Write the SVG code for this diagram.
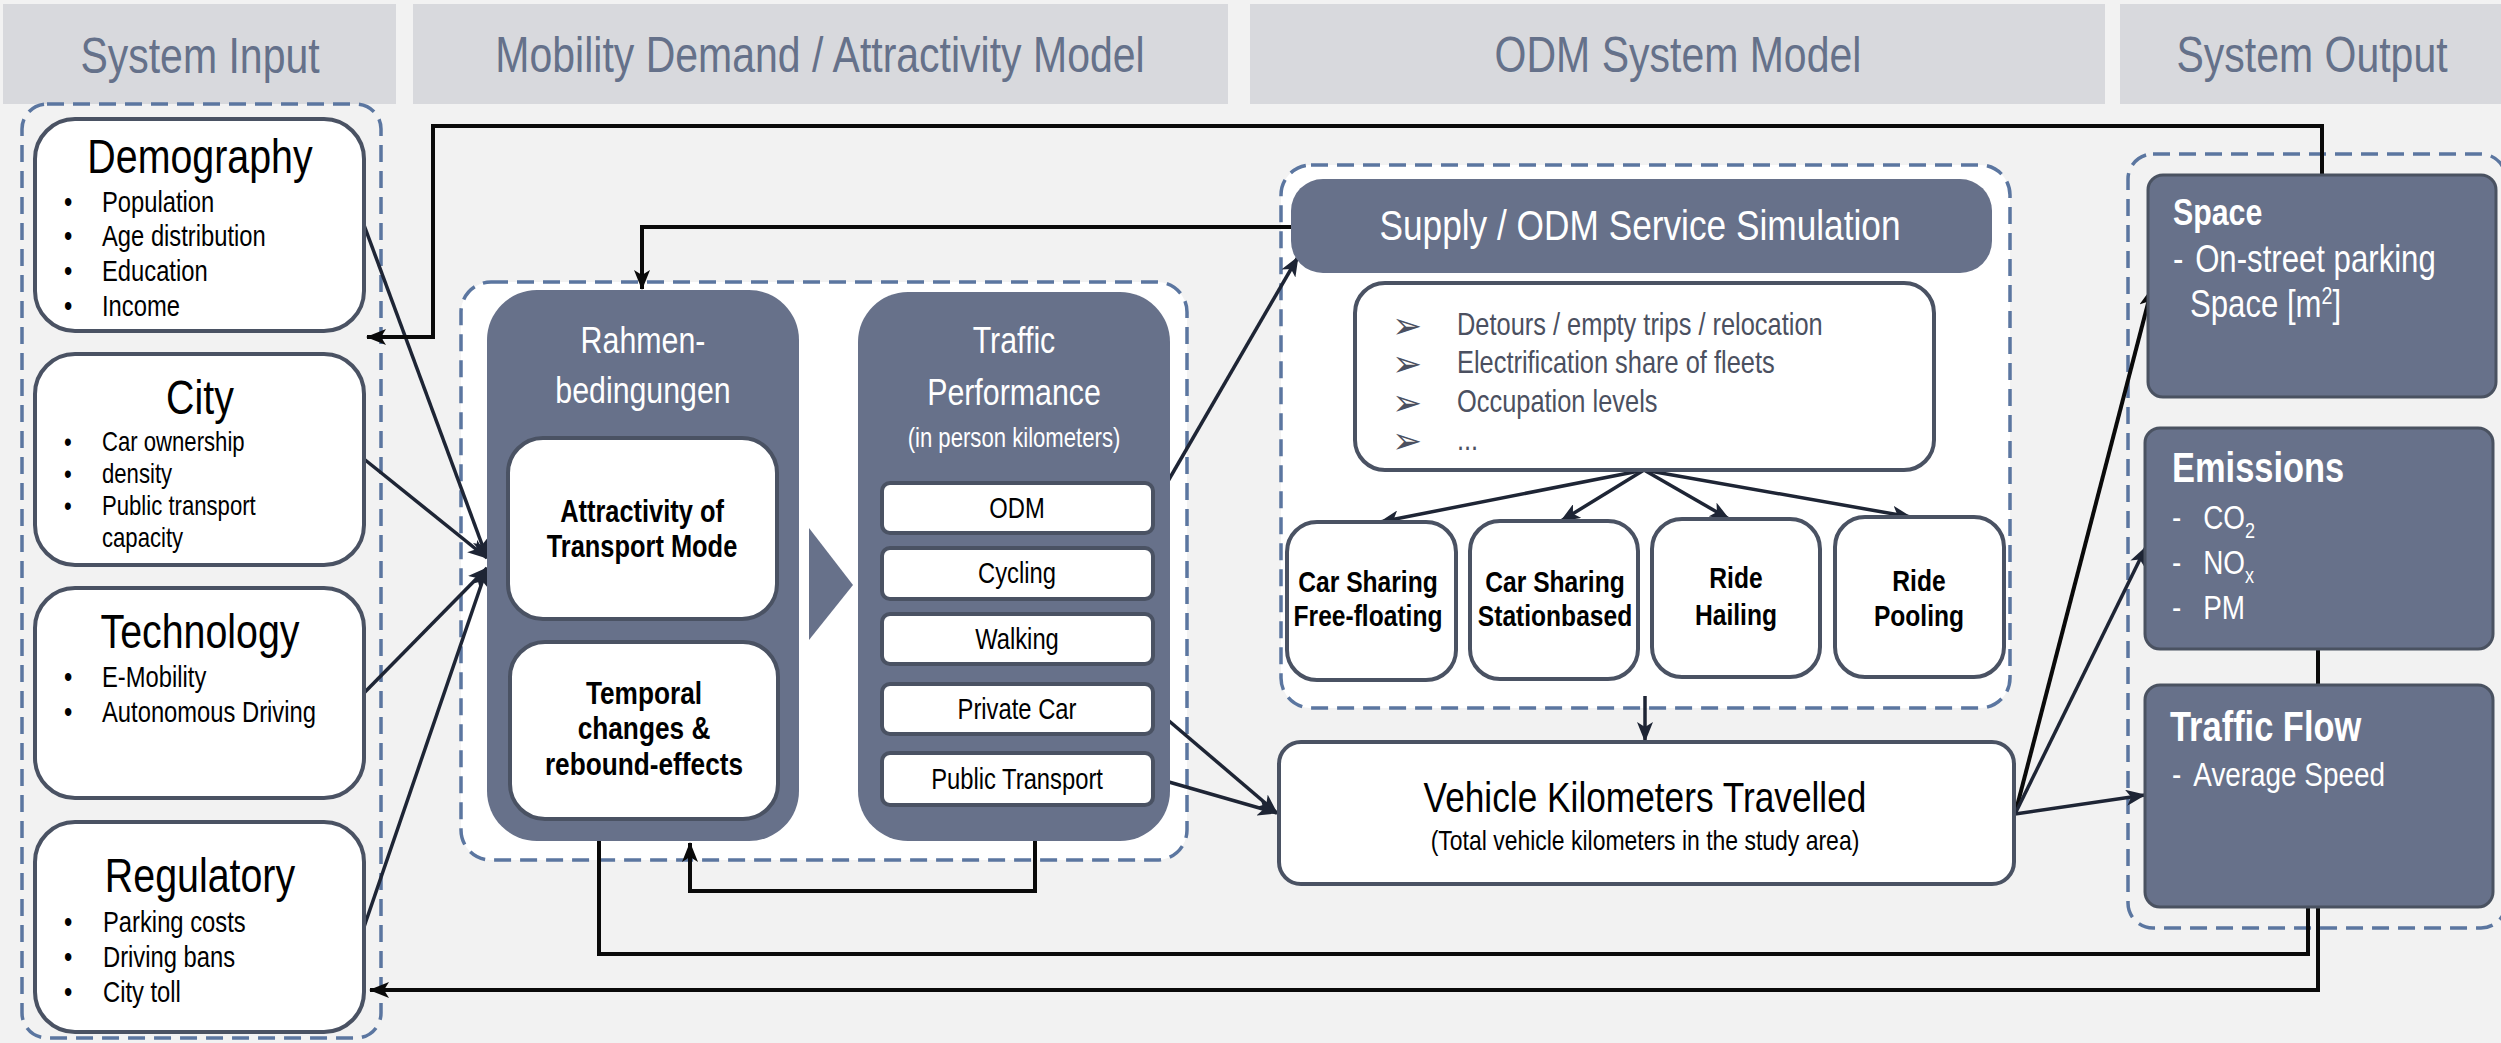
<svg xmlns="http://www.w3.org/2000/svg" width="2501" height="1043" viewBox="0 0 2501 1043">
<defs>
<style>
text{font-family:'Liberation Sans',Arial,sans-serif;transform-box:fill-box;transform:scaleX(0.82);}
.c{transform-origin:center;}
.l{transform-origin:left center;}
.hdr{fill:#d8d9dd;}
.htx{fill:#65718a;font-size:50px;text-anchor:middle;}
.cont{fill:none;stroke:#5b76a0;stroke-width:3.5;stroke-dasharray:17 9;}
.contw{fill:#ffffff;stroke:#5b76a0;stroke-width:3.5;stroke-dasharray:17 9;}
.wb{fill:#ffffff;stroke:#4a5263;stroke-width:4;}
.db{fill:#67718a;}
.ob{fill:#67718a;stroke:#4a5261;stroke-width:3;}
.ttl{font-size:48px;fill:#000;text-anchor:middle;}
.bul{font-size:29px;fill:#000;}
.bulc{font-size:27px;fill:#000;}
.wt{fill:#ffffff;text-anchor:middle;}
.bt{font-weight:bold;fill:#000;text-anchor:middle;}
.mode{font-size:29px;fill:#000;text-anchor:middle;}
.lst{font-size:31px;fill:#4b5060;}
.sym{font-family:'DejaVu Sans',sans-serif;font-size:36px;fill:#4b5060;transform:none;}
.arr{fill:none;stroke:#1e2535;stroke-width:3.5;}
.fb{fill:none;stroke:#0a0a0a;stroke-width:4;}
.ow{fill:#ffffff;}
</style>
<marker id="ah" viewBox="0 0 20 16" refX="19" refY="8" markerWidth="20" markerHeight="16" markerUnits="userSpaceOnUse" orient="auto">
<path d="M0,0 L20,8 L0,16 L5,8 z" fill="#1e2535"/>
</marker>
<marker id="ahk" viewBox="0 0 20 16" refX="19" refY="8" markerWidth="20" markerHeight="16" markerUnits="userSpaceOnUse" orient="auto">
<path d="M0,0 L20,8 L0,16 L5,8 z" fill="#0a0a0a"/>
</marker>
</defs>
<rect x="0" y="0" width="2501" height="1043" fill="#f2f2f2"/>

<g id="headers">
<rect class="hdr" x="3" y="4" width="393" height="100"/>
<text class="htx c" x="200" y="73">System Input</text>
<rect class="hdr" x="413" y="4" width="815" height="100"/>
<text class="htx c" x="820" y="72">Mobility Demand / Attractivity Model</text>
<rect class="hdr" x="1250" y="4" width="855" height="100"/>
<text class="htx c" x="1678" y="72">ODM System Model</text>
<rect class="hdr" x="2120" y="4" width="381" height="100"/>
<text class="htx c" x="2312" y="72">System Output</text>
</g>

<g id="containers">
<rect class="cont" x="22" y="104" width="359" height="934" rx="25"/>
<rect class="contw" x="461" y="282" width="726" height="578" rx="30"/>
<rect class="contw" x="1281" y="165" width="729" height="543" rx="30"/>
<rect class="cont" x="2128" y="154" width="378" height="774" rx="25"/>
</g>

<g id="connectors">
<line class="arr" x1="364" y1="225" x2="487" y2="558" marker-end="url(#ah)"/>
<line class="arr" x1="364" y1="459" x2="487" y2="558" marker-end="url(#ah)"/>
<line class="arr" x1="364" y1="693" x2="487" y2="568" marker-end="url(#ah)"/>
<line class="arr" x1="364" y1="927" x2="487" y2="568" marker-end="url(#ah)"/>
<line class="arr" x1="1153" y1="507" x2="1298" y2="257" marker-end="url(#ah)"/>
<line class="arr" x1="1155" y1="709" x2="1277" y2="813" marker-end="url(#ah)"/>
<line class="arr" x1="1155" y1="778" x2="1277" y2="813" marker-end="url(#ah)"/>
<line class="arr" x1="1644" y1="470" x2="1380" y2="522" marker-end="url(#ah)"/>
<line class="arr" x1="1644" y1="470" x2="1561" y2="521" marker-end="url(#ah)"/>
<line class="arr" x1="1644" y1="470" x2="1729" y2="519" marker-end="url(#ah)"/>
<line class="arr" x1="1644" y1="470" x2="1911" y2="517" marker-end="url(#ah)"/>
<line class="arr" x1="1645" y1="696" x2="1645" y2="741" marker-end="url(#ah)"/>
<line class="fb" x1="2015" y1="814" x2="2152" y2="288" marker-end="url(#ahk)"/>
<line class="arr" x1="2015" y1="814" x2="2146" y2="547" marker-end="url(#ah)"/>
<line class="arr" x1="2015" y1="814" x2="2145" y2="795" marker-end="url(#ah)"/>
<polyline class="fb" points="1291,227 642,227 642,289" marker-end="url(#ahk)"/>
<polyline class="fb" points="2322,175 2322,126 433,126 433,337 367,337" marker-end="url(#ahk)"/>
<polyline class="fb" points="1035,841 1035,891 690,891 690,843" marker-end="url(#ahk)"/>
<polyline class="fb" points="599,841 599,954 2308,954 2308,907"/>
<polyline class="fb" points="2318,649 2318,990 370,990" marker-end="url(#ahk)"/>
</g>

<g id="demography">
<rect class="wb" x="35" y="119" width="329" height="212" rx="40"/>
<text class="ttl c" x="200" y="173">Demography</text>
<text class="bul l" x="64" y="212">•</text><text class="bul l" x="102" y="212">Population</text>
<text class="bul l" x="64" y="246">•</text><text class="bul l" x="102" y="246">Age distribution</text>
<text class="bul l" x="64" y="281">•</text><text class="bul l" x="102" y="281">Education</text>
<text class="bul l" x="64" y="316">•</text><text class="bul l" x="102" y="316">Income</text>
</g>

<g id="city">
<rect class="wb" x="35" y="354" width="329" height="211" rx="40"/>
<text class="ttl c" x="200" y="414">City</text>
<text class="bulc l" x="64" y="451">•</text><text class="bulc l" x="102" y="451">Car ownership</text>
<text class="bulc l" x="64" y="483">•</text><text class="bulc l" x="102" y="483">density</text>
<text class="bulc l" x="64" y="515">•</text><text class="bulc l" x="102" y="515">Public transport</text>
<text class="bulc l" x="102" y="547">capacity</text>
</g>

<g id="technology">
<rect class="wb" x="35" y="588" width="329" height="210" rx="40"/>
<text class="ttl c" x="200" y="648">Technology</text>
<text class="bul l" x="64" y="687">•</text><text class="bul l" x="102" y="687">E-Mobility</text>
<text class="bul l" x="64" y="722">•</text><text class="bul l" x="102" y="722">Autonomous Driving</text>
</g>

<g id="regulatory">
<rect class="wb" x="35" y="822" width="329" height="210" rx="40"/>
<text class="ttl c" x="200" y="892">Regulatory</text>
<text class="bul l" x="64" y="932">•</text><text class="bul l" x="103" y="932">Parking costs</text>
<text class="bul l" x="64" y="967">•</text><text class="bul l" x="103" y="967">Driving bans</text>
<text class="bul l" x="64" y="1002">•</text><text class="bul l" x="103" y="1002">City toll</text>
</g>

<g id="rahmen">
<rect class="db" x="487" y="290" width="312" height="551" rx="50"/>
<text class="wt c" x="643" y="353" font-size="37">Rahmen-</text>
<text class="wt c" x="643" y="403" font-size="37">bedingungen</text>
</g>
<g id="attractivity">
<rect class="wb" x="508" y="438" width="269" height="181" rx="35"/>
<text class="bt c" x="642" y="522" font-size="31">Attractivity of</text>
<text class="bt c" x="642" y="557" font-size="31">Transport Mode</text>
</g>
<g id="temporal">
<rect class="wb" x="510" y="642" width="268" height="177" rx="35"/>
<text class="bt c" x="644" y="704" font-size="32">Temporal</text>
<text class="bt c" x="644" y="739" font-size="32">changes &amp;</text>
<text class="bt c" x="644" y="775" font-size="32">rebound-effects</text>
</g>

<g id="chevron">
<polygon points="809,528 853,585 809,640" fill="#67718a"/>
</g>

<g id="traffic-performance">
<rect class="db" x="858" y="292" width="312" height="549" rx="50"/>
<text class="wt c" x="1014" y="353" font-size="37">Traffic</text>
<text class="wt c" x="1014" y="405" font-size="37">Performance</text>
<text class="wt c" x="1014" y="447" font-size="27">(in person kilometers)</text>
</g>
<g id="mode-odm"><rect class="wb" x="882" y="483" width="271" height="50" rx="8"/><text class="mode c" x="1017" y="518">ODM</text></g>
<g id="mode-cycling"><rect class="wb" x="882" y="548" width="271" height="51" rx="8"/><text class="mode c" x="1017" y="583">Cycling</text></g>
<g id="mode-walking"><rect class="wb" x="882" y="614" width="271" height="50" rx="8"/><text class="mode c" x="1017" y="649">Walking</text></g>
<g id="mode-private-car"><rect class="wb" x="882" y="684" width="271" height="50" rx="8"/><text class="mode c" x="1017" y="719">Private Car</text></g>
<g id="mode-public-transport"><rect class="wb" x="882" y="753" width="271" height="52" rx="8"/><text class="mode c" x="1017" y="789">Public Transport</text></g>

<g id="supply">
<rect class="db" x="1291" y="179" width="701" height="94" rx="32"/>
<text class="wt c" x="1640" y="240" font-size="43">Supply / ODM Service Simulation</text>
</g>

<g id="supply-details">
<rect class="wb" x="1355" y="283" width="579" height="187" rx="30"/>
<text class="sym" x="1392" y="338">➢</text>
<text class="lst l" x="1457" y="335">Detours / empty trips / relocation</text>
<text class="sym" x="1392" y="376">➢</text>
<text class="lst l" x="1457" y="373">Electrification share of fleets</text>
<text class="sym" x="1392" y="415">➢</text>
<text class="lst l" x="1457" y="412">Occupation levels</text>
<text class="sym" x="1392" y="453">➢</text>
<text class="lst l" x="1457" y="450">...</text>
</g>

<g id="car-sharing-free-floating">
<rect class="wb" x="1287" y="522" width="169" height="158" rx="30"/>
<text class="bt c" x="1368" y="592" font-size="30">Car Sharing</text>
<text class="bt c" x="1368" y="626" font-size="30">Free-floating</text>
</g>
<g id="car-sharing-stationbased">
<rect class="wb" x="1470" y="521" width="168" height="158" rx="30"/>
<text class="bt c" x="1555" y="592" font-size="30">Car Sharing</text>
<text class="bt c" x="1555" y="626" font-size="30">Stationbased</text>
</g>
<g id="ride-hailing">
<rect class="wb" x="1652" y="519" width="168" height="158" rx="30"/>
<text class="bt c" x="1736" y="588" font-size="30">Ride</text>
<text class="bt c" x="1736" y="625" font-size="30">Hailing</text>
</g>
<g id="ride-pooling">
<rect class="wb" x="1835" y="517" width="169" height="160" rx="30"/>
<text class="bt c" x="1919" y="591" font-size="30">Ride</text>
<text class="bt c" x="1919" y="626" font-size="30">Pooling</text>
</g>

<g id="vkt">
<rect class="wb" x="1279" y="742" width="735" height="142" rx="22"/>
<text class="c" x="1645" y="812" font-size="43" fill="#000" text-anchor="middle">Vehicle Kilometers Travelled</text>
<text class="c" x="1645" y="850" font-size="28" fill="#000" text-anchor="middle">(Total vehicle kilometers in the study area)</text>
</g>

<g id="space">
<rect class="ob" x="2148" y="175" width="348" height="222" rx="15"/>
<text class="ow l" x="2173" y="225" font-size="37" font-weight="bold">Space</text>
<text class="ow l" x="2173" y="272" font-size="38">- <tspan x="2200">On-street parking</tspan></text>
<text class="ow l" x="2190" y="317" font-size="38">Space [m<tspan dy="-13" font-size="24">2</tspan><tspan dy="13">]</tspan></text>
</g>

<g id="emissions">
<rect class="ob" x="2145" y="428" width="348" height="221" rx="15"/>
<text class="ow l" x="2172" y="482" font-size="42" font-weight="bold">Emissions</text>
<text class="ow l" x="2172" y="529" font-size="34">- <tspan x="2210">CO</tspan><tspan dy="9" font-size="22">2</tspan></text>
<text class="ow l" x="2172" y="574" font-size="34">- <tspan x="2210">NO</tspan><tspan dy="9" font-size="22">x</tspan></text>
<text class="ow l" x="2172" y="619" font-size="34">- <tspan x="2210">PM</tspan></text>
</g>

<g id="traffic-flow">
<rect class="ob" x="2145" y="685" width="348" height="222" rx="15"/>
<text class="ow l" x="2170" y="741" font-size="42" font-weight="bold">Traffic Flow</text>
<text class="ow l" x="2172" y="786" font-size="34">- <tspan x="2198">Average Speed</tspan></text>
</g>
</svg>
